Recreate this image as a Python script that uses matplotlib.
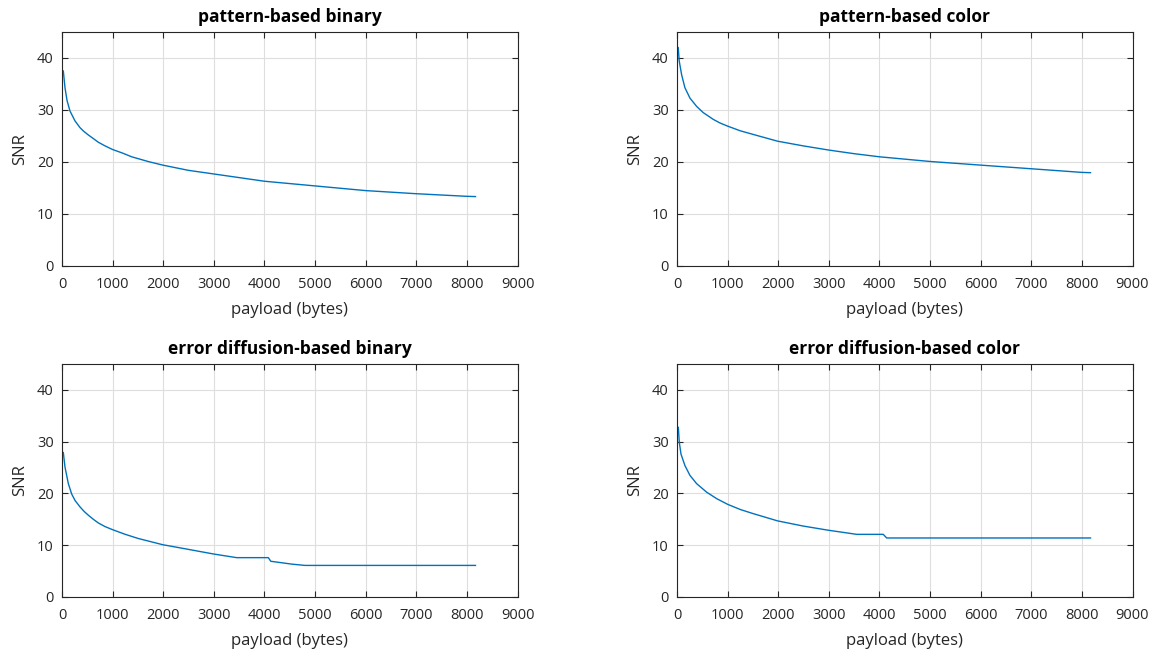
import matplotlib
matplotlib.use("Agg")
import matplotlib.pyplot as plt

plt.rcParams['font.family'] = ['Open Sans', 'DejaVu Sans']

# SNR versus embedded payload for the four halftoning schemes
titles = ["pattern-based binary", "pattern-based color",
          "error diffusion-based binary", "error diffusion-based color"]

pb_bin_x = [26, 59, 100, 158, 257, 356, 430, 520, 620, 718, 850, 1000, 1200,
            1377, 1700, 1990, 2496, 2998, 3500, 4000, 5000, 6000, 7000, 8000,
            8170]
pb_bin_y = [37.5, 34.3, 31.8, 29.8, 27.9, 26.6, 25.9, 25.2, 24.5, 23.8, 23.1,
            22.4, 21.7, 21.0, 20.1, 19.4, 18.4, 17.7, 17.0, 16.3, 15.4, 14.5,
            13.9, 13.4, 13.35]

pb_col_x = [24, 44, 91, 156, 255, 387, 518, 716, 850, 1000, 1250, 1506, 1988,
            2494, 2996, 3500, 4000, 5000, 6000, 7000, 8000, 8170]
pb_col_y = [42.0, 39.4, 36.8, 34.3, 32.3, 30.7, 29.5, 28.2, 27.5, 26.9, 26.0,
            25.3, 24.0, 23.1, 22.3, 21.6, 21.0, 20.1, 19.4, 18.7, 18.0, 17.95]

ed_bin_x = [26, 59, 125, 191, 257, 356, 440, 520, 620, 718, 850, 1000, 1250,
            1507, 1990, 2496, 2998, 3450, 4077, 4125, 4540, 4802, 8170]
ed_bin_y = [27.9, 25.1, 21.9, 19.9, 18.65, 17.4, 16.5, 15.8, 15.0, 14.3, 13.6,
            13.0, 12.1, 11.3, 10.1, 9.2, 8.3, 7.6, 7.6, 6.9, 6.35, 6.1, 6.1]

ed_col_x = [26, 45, 79, 156, 255, 387, 585, 783, 1000, 1250, 1506, 1988, 2494,
            2988, 3550, 4075, 4143, 8170]
ed_col_y = [32.75, 29.9, 27.6, 25.4, 23.5, 21.9, 20.25, 19.0, 17.9, 16.9, 16.1,
            14.7, 13.7, 12.9, 12.1, 12.1, 11.4, 11.4]

series = [(pb_bin_x, pb_bin_y), (pb_col_x, pb_col_y),
          (ed_bin_x, ed_bin_y), (ed_col_x, ed_col_y)]

x_ticks = [0, 1000, 2000, 3000, 4000, 5000, 6000, 7000, 8000, 9000]
y_ticks = [0, 10, 20, 30, 40]

W, H = 1158, 654
fig = plt.figure(figsize=(W / 100, H / 100), dpi=100)

# axes boxes in pixels: (left, top, right, bottom)
boxes = [(62, 32, 517.5, 266), (677, 32, 1132.5, 266),
         (62, 364, 517.5, 597), (677, 364, 1132.5, 597)]

axis_col = "#262626"
for (l, t, r, b), title, (xs, ys) in zip(boxes, titles, series):
    ax = fig.add_axes([l / W, 1 - b / H, (r - l) / W, (b - t) / H])
    ax.plot(xs, ys, color="#0072BD", lw=1.0)
    ax.set_xlim(0, 9000)
    ax.set_ylim(0, 45)
    ax.set_xticks(x_ticks)
    ax.set_yticks(y_ticks)
    ax.grid(True, color="#dedede", lw=0.8)
    ax.set_axisbelow(True)
    for s in ax.spines.values():
        s.set_color(axis_col)
        s.set_linewidth(0.8)
    ax.tick_params(direction="in", top=True, right=True, length=4,
                   width=0.8, color=axis_col, labelcolor=axis_col,
                   labelsize=10.5)
    ax.tick_params(axis="x", pad=8)
    ax.tick_params(axis="y", pad=6)
    ax.set_title(title, fontsize=12.5, fontweight="bold", color="#000000", pad=7)
    ax.set_xlabel("payload (bytes)", fontsize=12, color=axis_col, labelpad=7)
    ax.set_ylabel("SNR", fontsize=12, color=axis_col, labelpad=6)

fig.savefig("out.png", dpi=100)
